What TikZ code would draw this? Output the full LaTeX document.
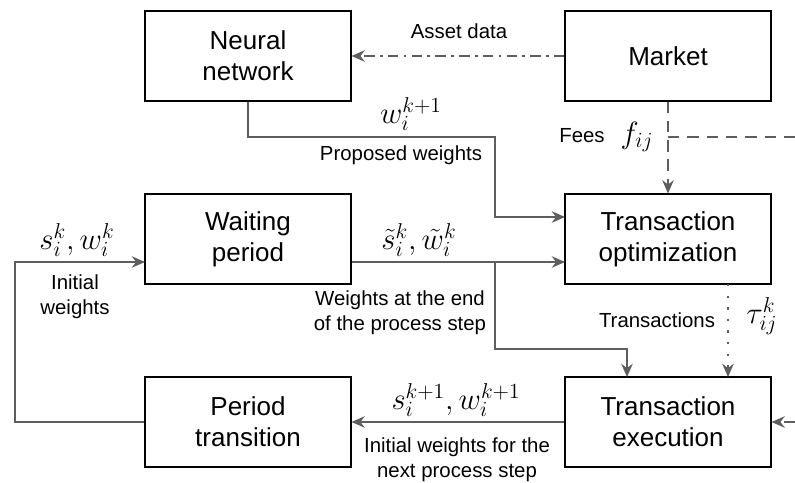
\documentclass[tikz,border=0pt]{standalone}
\usepackage{fix-cm}
\usepackage{fontspec}
\setmainfont{Liberation Sans}
\usetikzlibrary{arrows.meta}
\definecolor{linegray}{HTML}{5E5E5E}

\begin{document}
\begin{tikzpicture}[x=0.02cm,y=-0.02cm,
	block/.style={draw,line width=0.6pt,minimum width=4.12cm,minimum height=1.8cm,inner sep=0,align=center,font=\fontsize{14.8}{17.6}\selectfont},
	flow/.style={draw=linegray,line width=1.3pt,-{Stealth[length=7.5pt,width=6.5pt,inset=2.4pt]}},
	wire/.style={draw=linegray,line width=1.3pt},
	dashdot/.style={dash pattern=on 6pt off 3pt on 1.5pt off 3pt},
	dashline/.style={dash pattern=on 6.5pt off 4.5pt},
	dotline/.style={dash pattern=on 1.4pt off 5.2pt},
	lbl/.style={align=center,inner sep=0,font=\fontsize{11.6}{14}\selectfont},
	sym/.style={inner sep=0,font=\fontsize{17.5}{20}\selectfont}]
	\useasboundingbox (0,0) rectangle (795,483);
	\node[block] (nnet) at (248,56) {Neural\\network};
	\node[block] (mkt) at (668,56) {Market};
	\node[block] (wait) at (248,239) {Waiting\\period};
	\node[block] (topt) at (668,239) {Transaction\\optimization};
	\node[block] (ptr) at (248,422) {Period\\transition};
	\node[block] (texe) at (668,422) {Transaction\\execution};
	\coordinate (prop) at (495,137);
	\coordinate (topta) at (565,217);
	\coordinate (toptb) at (565,262);
	\coordinate (waitin) at (145,262);
	\coordinate (waitout) at (352,262);
	\coordinate (split) at (495,262);
	\coordinate (bend) at (627,349);
	\coordinate (texea) at (627,377);
	\coordinate (toptc) at (728,284);
	\coordinate (texeb) at (728,377);
	\coordinate (feel) at (668,137);
	\coordinate (feer) at (795,137);
	\coordinate (extr) at (795,422);
	\coordinate (loop) at (15,422);
	\draw[flow,dashdot] (mkt) -- (nnet);
	\draw[flow] (nnet.south) |- (prop) |- (topta);
	\draw[flow,dashline] (mkt) -- (topt);
	\draw[wire,dashline] (feel) -- (feer);
	\draw[flow] (waitout) -- (toptb);
	\draw[flow] (split) |- (bend) -- (texea);
	\draw[flow,dotline] (toptc) -- (texeb);
	\draw[flow,dashline] (extr) -- (texe);
	\draw[flow] (texe) -- (ptr);
	\draw[flow] (ptr.west) -- (loop) |- (waitin);
	\node[lbl] (asset) at (459,31) {Asset data};
	\node[sym] (wnext) at (411,114) {$w_i^{k+1}$};
	\node[lbl] (propw) at (401,155) {Proposed weights};
	\node[lbl] (fees) at (582,136) {Fees};
	\node[sym] (fij) at (637,137) {$f_{ij}$};
	\node[sym] (swk) at (77,240) {$s_i^k,w_i^k$};
	\node[lbl] (initw) at (75,297) {Initial\\weights};
	\node[sym] (swt) at (419,240) {$\tilde{s}_i^k,\tilde{w}_i^k$};
	\node[lbl] (endw) at (400,313) {Weights at the end\\of the process step};
	\node[lbl] (trans) at (657,320) {Transactions};
	\node[sym] (tau) at (762,316) {$\tau_{ij}^k$};
	\node[sym] (swn) at (456,400) {$s_i^{k+1},w_i^{k+1}$};
	\node[lbl] (nextw) at (457,460) {Initial weights for the\\next process step};
\end{tikzpicture}
\end{document}
